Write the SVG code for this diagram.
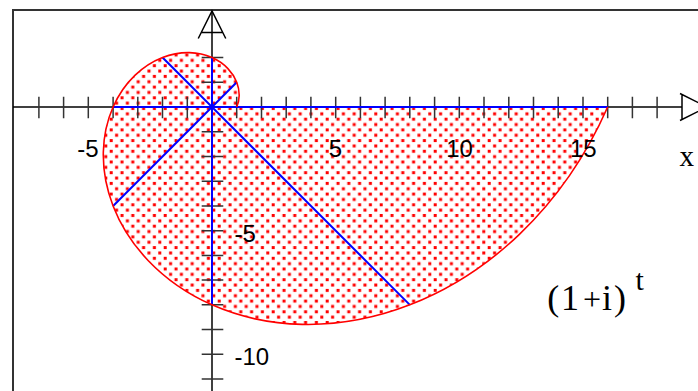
<svg xmlns="http://www.w3.org/2000/svg" width="698" height="391" viewBox="0 0 698 391">
<style>
.frame{fill:none;stroke:#333;stroke-width:2}
.axis{fill:none;stroke:#000;stroke-width:1.5}
.tick{fill:none;stroke:#333;stroke-width:1.5}
.ray{fill:none;stroke:#0000ff;stroke-width:2}
.curve{fill:none;stroke:#ff0000;stroke-width:1.6}
.num{font-family:"Liberation Sans",Arial,sans-serif;font-size:24px;fill:#000}
.serif{font-family:"Liberation Serif","Times New Roman",serif;fill:#000}
</style>
<defs>
<pattern id="dots" patternUnits="userSpaceOnUse" x="0" y="0" width="10.8" height="10.7">
<rect x="1.7" y="0" width="3" height="3" fill="#ff0000"/>
<rect x="7.1" y="5.35" width="3" height="3" fill="#ff0000"/>
</pattern>
</defs>
<rect width="698" height="391" fill="#fff"/>
<g id="frame">
<path class="frame" d="M13,400 V10 H700"/>
</g>
<g id="region">
<path fill="url(#dots)" stroke="none" d="M236.73,107 C238.16,103.76 239.07,99.96 239.17,95.75 C239.27,91.54 238.54,86.94 236.73,82.27 C234.92,77.60 232.03,72.88 227.92,68.58 C223.81,64.28 218.47,60.40 212,57.54 C205.53,54.68 197.90,52.85 189.49,52.66 C181.08,52.47 171.87,53.92 162.54,57.54 C153.21,61.16 143.76,66.95 135.15,75.17 C126.54,83.39 118.79,94.05 113.08,107 C107.37,119.95 103.71,135.19 103.32,152.02 C102.94,168.85 105.85,187.26 113.08,205.92 C120.32,224.58 131.90,243.49 148.34,260.70 C164.78,277.91 186.10,293.41 212,304.84 C237.90,316.27 268.39,323.59 302.04,324.36 C335.69,325.13 372.52,319.31 409.84,304.84 C447.17,290.37 484.98,267.21 519.40,234.33 C553.82,201.45 584.83,158.80 607.68,107 L212,107 Z"/>
</g>
<g id="axes">
<line class="axis" x1="13" y1="107" x2="682" y2="107"/>
<path class="axis" d="M680,93.5 L707,107 L680,120.5 M682,94.5 V119.5"/>
<line class="axis" x1="212" y1="11" x2="212" y2="391"/>
<path class="axis" d="M198.25,38.5 L212,11 L225.75,38.5 M201.25,32.5 H222.75"/>
</g>
<g id="ticks">
<path class="tick" d="M38.9,96.7V118.3 M63.6,96.7V118.3 M88.3,96.7V118.3 M113.1,96.7V118.3 M137.8,96.7V118.3 M162.5,96.7V118.3 M187.3,96.7V118.3 M236.7,96.7V118.3 M261.5,96.7V118.3 M286.2,96.7V118.3 M310.9,96.7V118.3 M335.7,96.7V118.3 M360.4,96.7V118.3 M385.1,96.7V118.3 M409.8,96.7V118.3 M434.6,96.7V118.3 M459.3,96.7V118.3 M484.0,96.7V118.3 M508.8,96.7V118.3 M533.5,96.7V118.3 M558.2,96.7V118.3 M583.0,96.7V118.3 M607.7,96.7V118.3 M632.4,96.7V118.3 M657.1,96.7V118.3"/>
<path class="tick" d="M201.7,57.5H223.3 M201.7,82.3H223.3 M201.7,131.7H223.3 M201.7,156.5H223.3 M201.7,181.2H223.3 M201.7,205.9H223.3 M201.7,230.7H223.3 M201.7,255.4H223.3 M201.7,280.1H223.3 M201.7,304.8H223.3 M201.7,329.6H223.3 M201.7,354.3H223.3 M201.7,379.0H223.3"/>
</g>
<g id="connectors">
<line class="ray" x1="212" y1="107" x2="236.73" y2="107" stroke-width="3.5"/>
<line class="ray" x1="212" y1="107" x2="236.73" y2="82.27"/>
<line class="ray" x1="212" y1="107" x2="212" y2="57.54"/>
<line class="ray" x1="212" y1="107" x2="162.54" y2="57.54"/>
<line class="ray" x1="212" y1="107" x2="113.08" y2="107"/>
<line class="ray" x1="212" y1="107" x2="113.08" y2="205.92"/>
<line class="ray" x1="212" y1="107" x2="212" y2="304.84"/>
<line class="ray" x1="212" y1="107" x2="409.84" y2="304.84"/>
<line class="ray" x1="212" y1="107" x2="607.68" y2="107" stroke-width="1.6"/>
</g>
<g id="spiral">
<path class="curve" d="M236.73,107 C238.16,103.76 239.07,99.96 239.17,95.75 C239.27,91.54 238.54,86.94 236.73,82.27 C234.92,77.60 232.03,72.88 227.92,68.58 C223.81,64.28 218.47,60.40 212,57.54 C205.53,54.68 197.90,52.85 189.49,52.66 C181.08,52.47 171.87,53.92 162.54,57.54 C153.21,61.16 143.76,66.95 135.15,75.17 C126.54,83.39 118.79,94.05 113.08,107 C107.37,119.95 103.71,135.19 103.32,152.02 C102.94,168.85 105.85,187.26 113.08,205.92 C120.32,224.58 131.90,243.49 148.34,260.70 C164.78,277.91 186.10,293.41 212,304.84 C237.90,316.27 268.39,323.59 302.04,324.36 C335.69,325.13 372.52,319.31 409.84,304.84 C447.17,290.37 484.98,267.21 519.40,234.33 C553.82,201.45 584.83,158.80 607.68,107"/>
</g>
<g id="labels">
<text class="num" x="88" y="157" text-anchor="middle">-5</text>
<text class="num" x="335.5" y="157" text-anchor="middle">5</text>
<text class="num" x="459.5" y="157" text-anchor="middle">10</text>
<text class="num" x="583.3" y="157" text-anchor="middle">15</text>
<text class="num" x="234.5" y="242">-5</text>
<text class="num" x="234.5" y="365">-10</text>
<text class="serif" x="679.5" y="166" font-size="29">x</text>
<text class="serif" y="309.5" font-size="36"><tspan x="547.3">(</tspan><tspan x="561">1</tspan><tspan x="583" font-size="32">+</tspan><tspan x="602">i</tspan><tspan x="614">)</tspan></text>
<text class="serif" x="635.5" y="290" font-size="30">t</text>
</g>
</svg>
